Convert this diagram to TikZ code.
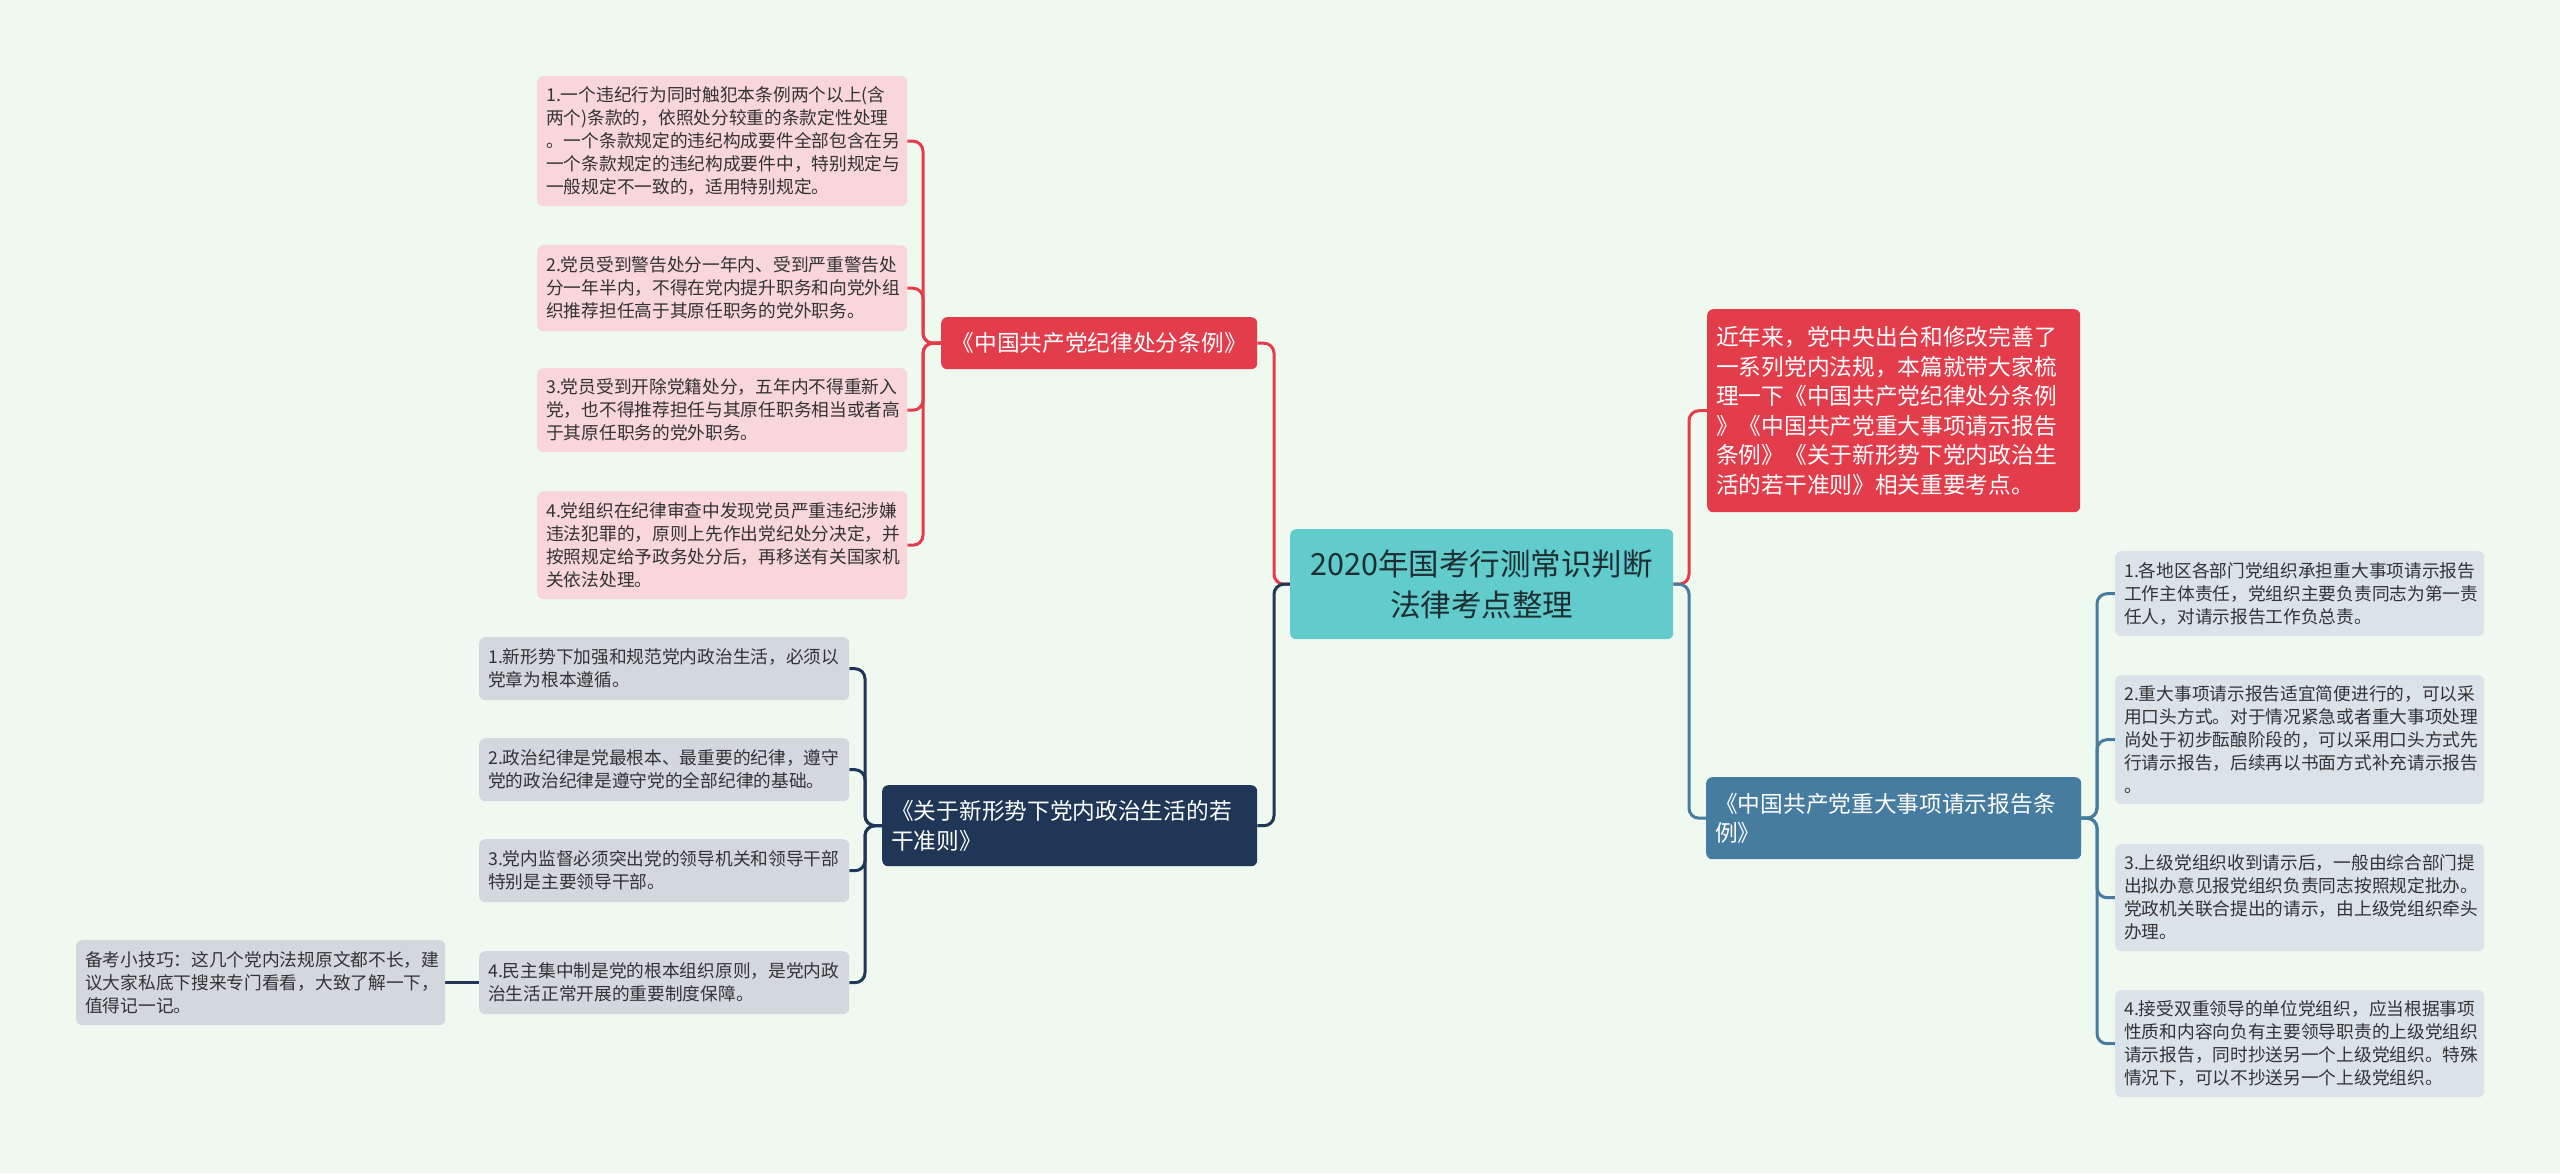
\documentclass[tikz,border=0pt]{standalone}
\usepackage{fontspec}
\setmainfont{Noto Sans CJK SC}
\usetikzlibrary{backgrounds}
\definecolor{bgc}{HTML}{F0F9EF}
\definecolor{rootc}{HTML}{62CBCB}
\definecolor{roott}{HTML}{1D2E34}
\definecolor{redc}{HTML}{E33C4A}
\definecolor{navyc}{HTML}{1F3657}
\definecolor{steelc}{HTML}{477CA1}
\definecolor{pinkc}{HTML}{F8D6DA}
\definecolor{grayc}{HTML}{D3D8DF}
\definecolor{bluegrayc}{HTML}{DBE3EA}
\definecolor{txtc}{HTML}{333333}
\tikzset{
  box/.style={rounded corners=6pt, inner xsep=9pt, inner ysep=0pt, anchor=north west, align=left},
  leaf/.style={box, font=\fontsize{17.7pt}{23pt}\selectfont, text=txtc},
  bigt/.style={box, font=\fontsize{22.7pt}{29.5pt}\selectfont, text=white},
  conn/.style={line width=3pt, rounded corners=10pt},
}
\begin{document}
\begin{tikzpicture}[x=1pt,y=-1pt]
\useasboundingbox (0,0) rectangle (2560,1173);

% root
\node[box, fill=rootc, text=roott, align=center, font=\fontsize{30.5pt}{41pt}\selectfont,
  minimum width=383pt, text width=365pt, minimum height=110pt] (root) at (1290,529)
  {2020年国考行测常识判断\\法律考点整理};

% left branch 1
\node[bigt, fill=redc, align=center, minimum width=316pt, text width=298pt, minimum height=52pt] (b1) at (941,317)
  {《中国共产党纪律处分条例》};
\node[leaf, fill=pinkc, minimum width=370pt, text width=352pt, minimum height=130pt] (c1) at (537,76)
  {1.一个违纪行为同时触犯本条例两个以上(含\\两个)条款的，依照处分较重的条款定性处理\\。一个条款规定的违纪构成要件全部包含在另\\一个条款规定的违纪构成要件中，特别规定与\\一般规定不一致的，适用特别规定。};
\node[leaf, fill=pinkc, minimum width=370pt, text width=352pt, minimum height=86pt] (c2) at (537,245)
  {2.党员受到警告处分一年内、受到严重警告处\\分一年半内，不得在党内提升职务和向党外组\\织推荐担任高于其原任职务的党外职务。};
\node[leaf, fill=pinkc, minimum width=370pt, text width=352pt, minimum height=84pt] (c3) at (537,368)
  {3.党员受到开除党籍处分，五年内不得重新入\\党，也不得推荐担任与其原任职务相当或者高\\于其原任职务的党外职务。};
\node[leaf, fill=pinkc, minimum width=370pt, text width=352pt, minimum height=108pt] (c4) at (537,491)
  {4.党组织在纪律审查中发现党员严重违纪涉嫌\\违法犯罪的，原则上先作出党纪处分决定，并\\按照规定给予政务处分后，再移送有关国家机\\关依法处理。};

% left branch 2
\node[bigt, fill=navyc, minimum width=375pt, text width=357pt, minimum height=81pt] (b3) at (882,785)
  {《关于新形势下党内政治生活的若\\干准则》};
\node[leaf, fill=grayc, minimum width=370pt, text width=352pt, minimum height=63pt] (d1) at (479,637)
  {1.新形势下加强和规范党内政治生活，必须以\\党章为根本遵循。};
\node[leaf, fill=grayc, minimum width=370pt, text width=352pt, minimum height=63pt] (d2) at (479,738)
  {2.政治纪律是党最根本、最重要的纪律，遵守\\党的政治纪律是遵守党的全部纪律的基础。};
\node[leaf, fill=grayc, minimum width=370pt, text width=352pt, minimum height=63pt] (d3) at (479,839)
  {3.党内监督必须突出党的领导机关和领导干部\\特别是主要领导干部。};
\node[leaf, fill=grayc, minimum width=370pt, text width=352pt, minimum height=63pt] (d4) at (479,951)
  {4.民主集中制是党的根本组织原则，是党内政\\治生活正常开展的重要制度保障。};
\node[leaf, fill=grayc, minimum width=369pt, text width=351pt, minimum height=85pt] (tip) at (76,940)
  {备考小技巧：这几个党内法规原文都不长，建\\议大家私底下搜来专门看看，大致了解一下，\\值得记一记。};

% right branch 1
\node[bigt, fill=redc, minimum width=373pt, text width=355pt, minimum height=203pt] (r1) at (1707,309)
  {近年来，党中央出台和修改完善了\\一系列党内法规，本篇就带大家梳\\理一下《中国共产党纪律处分条例\\》《中国共产党重大事项请示报告\\条例》《关于新形势下党内政治生\\活的若干准则》相关重要考点。};

% right branch 2
\node[bigt, fill=steelc, minimum width=375pt, text width=357pt, minimum height=82pt] (r2) at (1706,777)
  {《中国共产党重大事项请示报告条\\例》};
\node[leaf, fill=bluegrayc, minimum width=369pt, text width=351pt, minimum height=85pt] (e1) at (2115,551)
  {1.各地区各部门党组织承担重大事项请示报告\\工作主体责任，党组织主要负责同志为第一责\\任人，对请示报告工作负总责。};
\node[leaf, fill=bluegrayc, minimum width=369pt, text width=351pt, minimum height=129pt] (e2) at (2115,675)
  {2.重大事项请示报告适宜简便进行的，可以采\\用口头方式。对于情况紧急或者重大事项处理\\尚处于初步酝酿阶段的，可以采用口头方式先\\行请示报告，后续再以书面方式补充请示报告\\。};
\node[leaf, fill=bluegrayc, minimum width=369pt, text width=351pt, minimum height=107pt] (e3) at (2115,844)
  {3.上级党组织收到请示后，一般由综合部门提\\出拟办意见报党组织负责同志按照规定批办。\\党政机关联合提出的请示，由上级党组织牵头\\办理。};
\node[leaf, fill=bluegrayc, minimum width=369pt, text width=351pt, minimum height=107pt] (e4) at (2115,990)
  {4.接受双重领导的单位党组织，应当根据事项\\性质和内容向负有主要领导职责的上级党组织\\请示报告，同时抄送另一个上级党组织。特殊\\情况下，可以不抄送另一个上级党组织。};

\coordinate (vL) at (1274,0);
\coordinate (vR) at (1689,0);
\coordinate (vC) at (923,0);
\coordinate (vD) at (865,0);
\coordinate (vE) at (2097,0);

\begin{scope}[on background layer]
\fill[bgc] (0,0) rectangle (2560,1173);
\draw[conn, redc] (root.west) -- (root.west -| vL) |- (b1.east);
\draw[conn, navyc] (root.west) -- (root.west -| vL) |- (b3.east);
\draw[conn, redc] (root.east) -- (root.east -| vR) |- (r1.west);
\draw[conn, steelc] (root.east) -- (root.east -| vR) |- (r2.west);
\foreach \c in {c1,c2,c3,c4}
  \draw[conn, redc] (b1.west) -- (b1.west -| vC) |- (\c.east);
\foreach \c in {d1,d2,d3,d4}
  \draw[conn, navyc] (b3.west) -- (b3.west -| vD) |- (\c.east);
\foreach \c in {e1,e2,e3,e4}
  \draw[conn, steelc] (r2.east) -- (r2.east -| vE) |- (\c.west);
\draw[conn, navyc] (d4.west) -- (tip.east);
\end{scope}
\end{tikzpicture}
\end{document}
